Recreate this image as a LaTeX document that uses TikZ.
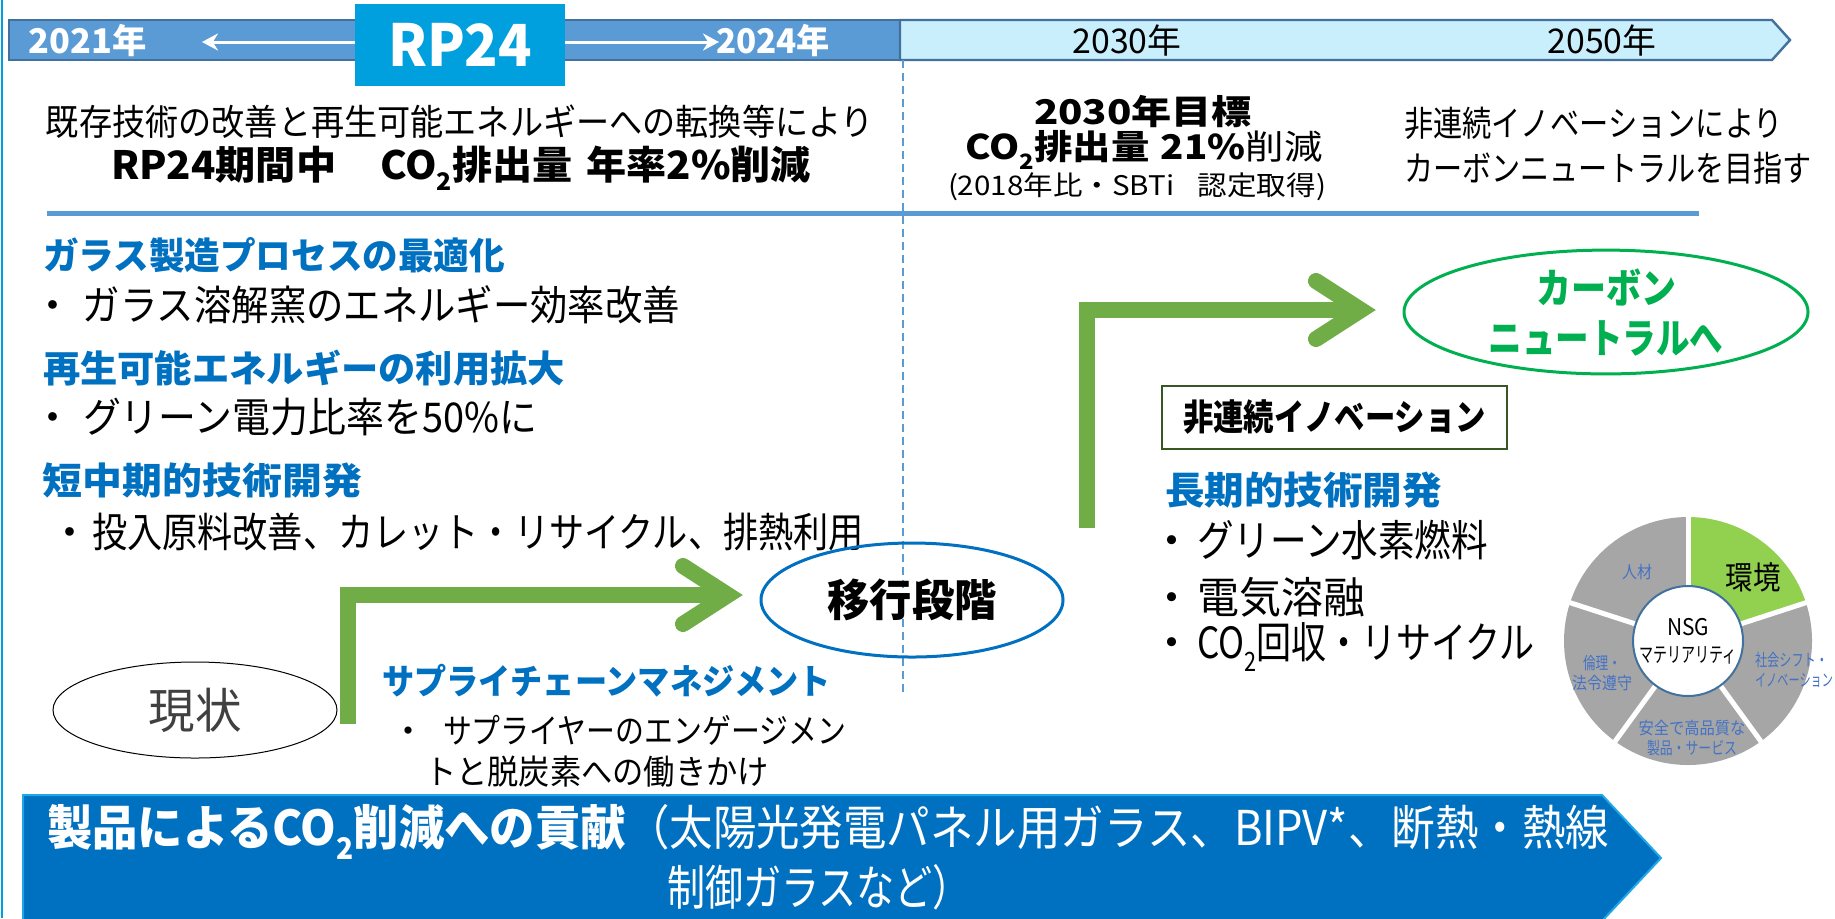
\documentclass[tikz,border=0pt]{standalone}
\usepackage{fontspec}
\setmainfont{Noto Sans CJK JP}
\usepackage{graphicx}
\usetikzlibrary{shapes.geometric,arrows.meta}
\newlength{\upx}\setlength{\upx}{0.5pt}
\newcommand{\fitw}[2]{\resizebox{#1\upx}{\height}{#2}}
\newcommand{\lowtwo}{\raisebox{-0.28em}{\scalebox{0.62}{2}}}
\newcommand{\fs}[2]{\fontsize{#1pt}{#2pt}\selectfont}
\definecolor{tlDark}{HTML}{5B9BD5}
\definecolor{tlLight}{HTML}{C9EEFC}
\definecolor{tlBorder}{HTML}{41719C}
\definecolor{rpBlue}{HTML}{00A0DF}
\definecolor{txtBlue}{HTML}{0070C0}
\definecolor{lineBlue}{HTML}{5B9BD5}
\definecolor{arrGreen}{HTML}{70AD47}
\definecolor{cnGreen}{HTML}{00B050}
\definecolor{pieGreen}{HTML}{92D050}
\definecolor{pieGray}{HTML}{A6A6A6}
\definecolor{pieText}{HTML}{4472C4}
\definecolor{banner}{HTML}{0070C0}
\definecolor{bannerEdge}{HTML}{1FA8E8}
\definecolor{leftEdge}{HTML}{00A0E0}
\definecolor{boxGreen}{HTML}{385723}
\definecolor{darkGray}{HTML}{404040}
\begin{document}
\begin{tikzpicture}[x=0.5pt,y=-0.5pt,
  t/.style={inner sep=0pt, outer sep=0pt},
  greenbar/.style={arrGreen, line width=8pt, line join=miter},
  chevron/.style={arrGreen, line width=8pt, line cap=round, line join=miter},
  dotbul/.style={t, anchor=west}
]
\useasboundingbox (0,0) rectangle (1835,918);
\fill[white] (0,0) rectangle (1835,918);
\draw[leftEdge, line width=1pt] (1.5,0) -- (1.5,918);

% ---------- timeline ----------
\filldraw[fill=tlDark, draw=tlBorder, line width=1.2pt] (9,20) rectangle (900,60);
\filldraw[fill=tlLight, draw=tlBorder, line width=1.2pt] (900,20) -- (1772,20) -- (1790,40) -- (1772,60) -- (900,60) -- cycle;
\node[t, fill=rpBlue, minimum width=105pt, minimum height=41pt, font=\fs{29}{32}\bfseries, text=white] (rp) at (460,45) {\fitw{144}{RP24}};
\coordinate (al) at (202,42);
\coordinate (ar) at (719,42);
\draw[white, line width=1.5pt, -{Stealth[length=8pt,width=8.5pt]}] (rp.west |- al) -- (al);
\draw[white, line width=1.5pt, -{Stealth[length=8pt,width=8.5pt]}] (rp.east |- ar) -- (ar);
\node[t, font=\fs{17}{19}\bfseries, text=white] (y2021) at (88,41) {\fitw{118}{2021年}};
\node[t, font=\fs{17}{19}\bfseries, text=white] (y2024) at (773,41) {\fitw{114}{2024年}};
\node[t, font=\fs{17}{19}] (y2030) at (1127,41) {\fitw{109}{2030年}};
\node[t, font=\fs{17}{19}] (y2050) at (1602,41) {\fitw{109}{2050年}};

% dashed divider
\coordinate (dtop) at (903,60);
\coordinate (dbot) at (903,695);
\draw[lineBlue, line width=0.8pt, dash pattern=on 4pt off 2.5pt] (dtop) -- (dbot);

% ---------- header texts ----------
\node[t, font=\fs{18}{20}] (intro1) at (460,122) {\fitw{828}{既存技術の改善と再生可能エネルギーへの転換等により}};
\node[t, font=\fs{19.5}{22}\bfseries] (intro2) at (461,168) {\fitw{700}{RP24期間中\hspace{1.1em}CO\lowtwo 排出量\hspace{0.35em}年率2\%削減}};
\node[t, font=\fs{17}{20}\bfseries] (goal1) at (1143,112) {\fitw{218}{2030年目標}};
\node[t, font=\fs{17}{20}] (goal2) at (1144,150) {\fitw{357}{\textbf{CO\lowtwo 排出量\hspace{0.3em}21\%}削減}};
\node[t, font=\fs{13.5}{15}] (goal3) at (1137,187) {\fitw{378}{(2018年比・SBTi\hspace{0.8em}認定取得)}};
\node[t, anchor=west, font=\fs{17.5}{19}] (right1) at (1404,123) {\fitw{379}{非連続イノベーションにより}};
\node[t, anchor=west, font=\fs{17.5}{19}] (right2) at (1404,168) {\fitw{408}{カーボンニュートラルを目指す}};
\coordinate (hl1) at (47,213);
\coordinate (hl2) at (1699,213);
\draw[lineBlue, line width=2.5pt] (hl1) -- (hl2);

% ---------- left column ----------
\node[t, anchor=west, font=\fs{18.5}{21}\bfseries, text=txtBlue] (h1) at (43,255) {\fitw{462}{ガラス製造プロセスの最適化}};
\node[dotbul, font=\fs{20.5}{22}] (b1) at (23,305) {\makebox[30pt]{・}\fitw{597}{ガラス溶解窯のエネルギー効率改善}};
\node[t, anchor=west, font=\fs{18.5}{21}\bfseries, text=txtBlue] (h2) at (43,368) {\fitw{522}{再生可能エネルギーの利用拡大}};
\node[dotbul, font=\fs{20.5}{22}] (b2) at (23,417) {\makebox[30pt]{・}\fitw{454}{グリーン電力比率を50\%に}};
\node[t, anchor=west, font=\fs{18.5}{21}\bfseries, text=txtBlue] (h3) at (43,480) {\fitw{319}{短中期的技術開発}};
\node[dotbul, font=\fs{20.5}{22}] (b3) at (48,532) {\makebox[22pt]{・}\fitw{772}{投入原料改善、カレット・リサイクル、排熱利用}};

% ---------- ellipses ----------
\node[t, ellipse, draw=black, line width=0.5pt, minimum width=142pt, minimum height=48pt, font=\fs{24}{26}, text=darkGray] (now) at (195,710) {\fitw{93}{現状}};
\node[t, ellipse, draw=txtBlue, line width=1.5pt, minimum width=151pt, minimum height=57pt, font=\fs{22}{24}\bfseries] (trans) at (912,600) {\fitw{169}{移行段階}};
\node[t, ellipse, draw=cnGreen, line width=1.5pt, minimum width=202pt, minimum height=57pt, align=center, font=\fs{20.5}{25}\bfseries, text=cnGreen] (cn) at (1606,312) {\fitw{140}{カーボン}\\\fitw{235}{ニュートラルへ}};

% ---------- green bent arrows ----------
\coordinate (g1a) at (348,724);
\coordinate (g1b) at (348,595);
\coordinate (g1c) at (728,595);
\coordinate (g1u) at (683,566);
\coordinate (g1d) at (683,624);
\draw[greenbar] (g1a) -- (g1b) -- (g1c);
\draw[chevron] (g1u) -- (g1c) -- (g1d);
\coordinate (g2a) at (1087,528);
\coordinate (g2b) at (1087,310);
\coordinate (g2c) at (1361,310);
\coordinate (g2u) at (1316,281);
\coordinate (g2d) at (1316,339);
\draw[greenbar] (g2a) -- (g2b) -- (g2c);
\draw[chevron] (g2u) -- (g2c) -- (g2d);

% ---------- supply chain ----------
\node[t, anchor=west, font=\fs{17.5}{20}\bfseries, text=txtBlue] (scm) at (382,681) {\fitw{449}{サプライチェーンマネジメント}};
\node[dotbul, font=\fs{17}{19}] (scm1) at (373,730) {\makebox[35pt]{・}\fitw{403}{サプライヤーのエンゲージメン}};
\node[t, anchor=west, font=\fs{17}{19}] (scm2) at (425,772) {\fitw{344}{トと脱炭素への働きかけ}};

% ---------- right column ----------
\node[t, draw=boxGreen, line width=0.8pt, fill=white, minimum width=172.5pt, minimum height=31.5pt, font=\fs{18}{20}\bfseries] (inno) at (1334.5,417.5) {\fitw{303}{非連続イノベーション}};
\node[t, anchor=west, font=\fs{19}{21}\bfseries, text=txtBlue] (lt) at (1165,490) {\fitw{277}{長期的技術開発}};
\node[dotbul, font=\fs{21.5}{23}] (rb1) at (1147,540) {\makebox[25pt]{・}\fitw{291}{グリーン水素燃料}};
\node[dotbul, font=\fs{21.5}{23}] (rb2) at (1147,597) {\makebox[25pt]{・}\fitw{168}{電気溶融}};
\node[dotbul, font=\fs{21.5}{23}] (rb3) at (1147,647) {\makebox[25pt]{・}\fitw{338}{CO\lowtwo 回収・リサイクル}};

% ---------- pie ----------
\coordinate (pc) at (1688,641);
\fill[pieGreen] (pc) -- ++(18:62pt) arc[start angle=18, end angle=90, radius=62pt] -- cycle;
\fill[pieGray] (pc) -- ++(-54:62pt) arc[start angle=-54, end angle=18, radius=62pt] -- cycle;
\fill[pieGray] (pc) -- ++(-126:62pt) arc[start angle=-126, end angle=-54, radius=62pt] -- cycle;
\fill[pieGray] (pc) -- ++(-198:62pt) arc[start angle=-198, end angle=-126, radius=62pt] -- cycle;
\fill[pieGray] (pc) -- ++(90:62pt) arc[start angle=90, end angle=162, radius=62pt] -- cycle;
\foreach \a in {90,18,-54,-126,-198} \draw[white, line width=2.5pt] (pc) -- ++(\a:63pt);
\node[t, circle, draw=tlBorder, line width=1pt, fill=white, minimum size=55pt, align=center, font=\fs{11.5}{13.5}] (nsg) at (pc) {\fitw{42}{NSG}\\\fitw{97}{\fs{10.5}{13.5}マテリアリティ}};
\node[t, font=\fs{16}{18}] (env) at (1753,577) {\fitw{55}{環境}};
\node[t, font=\fs{8.5}{10}, text=pieText] (hr) at (1637,572) {\fitw{30}{人材}};
\node[t, anchor=west, align=left, font=\fs{8.5}{10}, text=pieText] (soc) at (1755,670) {\fitw{73}{社会シフト・}\\\fitw{78}{イノベーション}};
\node[t, align=center, font=\fs{8.5}{10}, text=pieText] (eth) at (1602,673) {\fitw{38}{倫理・}\\\fitw{60}{法令遵守}};
\node[t, align=center, font=\fs{8.5}{10}, text=pieText] (saf) at (1692,738) {\fitw{107}{安全で高品質な}\\\fitw{90}{製品・サービス}};

% ---------- banner ----------
\filldraw[fill=banner, draw=bannerEdge, line width=1pt] (23,795) -- (1602,795) -- (1661,858) -- (1602,921) -- (23,921) -- cycle;
\node[t, anchor=west, font=\fs{24}{26}, text=white] (ban1) at (47,832) {\fitw{579}{\bfseries 製品によるCO\lowtwo 削減への貢献}\fitw{983}{（太陽光発電パネル用ガラス、BIPV*、断熱・熱線}};
\node[t, font=\fs{24}{26}, text=white] (ban2) at (819,887) {\fitw{304}{制御ガラスなど）}};
\end{tikzpicture}
\end{document}
